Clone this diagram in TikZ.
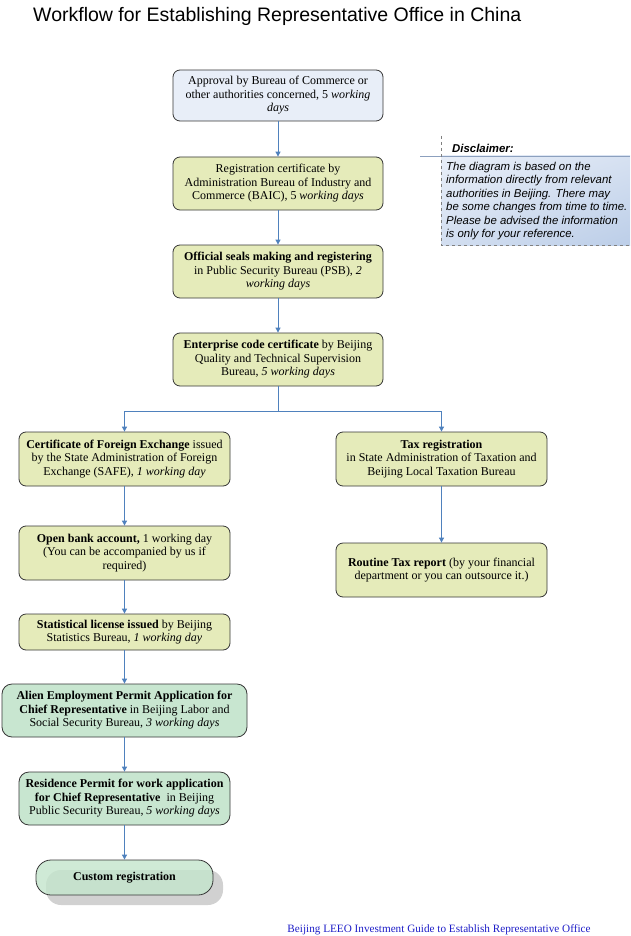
\documentclass[tikz,border=0pt]{standalone}
\usepackage{fontspec}
\setmainfont{Liberation Serif}
\newfontfamily\arialfont{Liberation Sans}
\usetikzlibrary{arrows.meta,shadings}
\definecolor{arrowblue}{RGB}{79,129,189}
\definecolor{boxline}{RGB}{55,55,55}
\definecolor{yfill}{RGB}{229,235,186}
\definecolor{bfill}{RGB}{232,238,248}
\definecolor{gfill}{RGB}{200,230,208}
\definecolor{cfill}{RGB}{196,229,204}
\definecolor{discA}{RGB}{232,238,248}
\definecolor{discB}{RGB}{188,206,232}
\definecolor{discline}{RGB}{140,160,190}
\definecolor{footblue}{RGB}{30,30,200}
\begin{document}
\begin{tikzpicture}[x=1pt,y=-1pt,
  stepbox/.style={draw=boxline, line width=0.8pt, rounded corners=7pt, fill=yfill,
    align=center, inner sep=2pt, minimum width=211pt, minimum height=53pt,
    font=\fontsize{12}{13.5}\selectfont},
  arr/.style={draw=arrowblue, line width=0.9pt, -{Triangle[width=5pt,length=5pt]}},
  ln/.style={draw=arrowblue, line width=0.9pt}]
\useasboundingbox (0,0) rectangle (630,936);
\fill[white] (0,0) rectangle (630,936);

% title
\node[anchor=base west, inner sep=0pt, font=\arialfont\fontsize{19.5}{22}\selectfont] (title) at (33,22)
  {Workflow for Establishing Representative Office in China};

% disclaimer
\shade[upper left=discA, upper right=discA!60!discB, lower left=discA!50!discB, lower right=discB] (441,156) rectangle (630,245);
\draw[discline, line width=0.8pt] (420,156) -- (630,156);
\draw[gray, dashed, line width=0.8pt] (441,136) -- (441,245) -- (630,245);
\node[anchor=base west, inner sep=0pt, font=\arialfont\bfseries\itshape\fontsize{11.4}{13}\selectfont] (disch) at (452,153) {Disclaimer:};
\node[anchor=north west, inner sep=0pt, align=left, font=\arialfont\itshape\fontsize{11.4}{13.4}\selectfont] (disct) at (446,162)
  {The diagram is based on the\\ information directly from relevant\\ authorities in Beijing. There may\\ be some changes from time to time.\\ Please be advised the information\\ is only for your reference.};

% boxes
\node[stepbox, fill=bfill, minimum width=210pt, minimum height=51pt] (b1) at (278,95.5)
  {Approval by Bureau of Commerce or\\ other authorities concerned, 5 \textit{working}\\ \textit{days}};
\node[stepbox, minimum width=210pt] (b2) at (278,183.5)
  {Registration certificate by\\ Administration Bureau of Industry and\\ Commerce (BAIC), 5 \textit{working days}};
\node[stepbox, minimum width=210pt] (b3) at (278,271.5)
  {\textbf{Official seals making and registering}\\ in Public Security Bureau (PSB), \textit{2}\\ \textit{working days}};
\node[stepbox, minimum width=210pt] (b4) at (278,359.5)
  {\textbf{Enterprise code certificate} by Beijing\\ Quality and Technical Supervision\\ Bureau, \textit{5 working days}};
\node[stepbox, minimum height=54pt] (b5) at (124.5,459)
  {\textbf{Certificate of Foreign Exchange} issued\\ by the State Administration of Foreign\\ Exchange (SAFE), \textit{1 working day}};
\node[stepbox, minimum height=54pt] (b6) at (441.5,459)
  {\textbf{Tax registration}\\ in State Administration of Taxation and\\ Beijing Local Taxation Bureau};
\node[stepbox, minimum height=54pt] (b7) at (124.5,553)
  {\textbf{Open bank account,} 1 working day\\ (You can be accompanied by us if\\ required)};
\node[stepbox, minimum height=54pt] (b8) at (441.5,570)
  {\textbf{Routine Tax report} (by your financial\\ department or you can outsource it.)};
\node[stepbox, minimum height=36pt] (b9) at (124.5,632)
  {\textbf{Statistical license issued} by Beijing\\ Statistics Bureau, \textit{1 working day}};
\node[stepbox, fill=gfill, minimum width=245pt, rounded corners=10pt] (b10) at (124.5,710.5)
  {\textbf{Alien Employment Permit Application for}\\ \textbf{Chief Representative} in Beijing Labor and\\ Social Security Bureau, \textit{3 working days}};
\node[stepbox, fill=gfill, rounded corners=10pt] (b11) at (124.5,798.5)
  {\textbf{Residence Permit for work application}\\ \textbf{for Chief Representative}~ in Beijing\\ Public Security Bureau, \textit{5 working days}};
% custom registration with shadow
\fill[black!18, rounded corners=15pt] (46,870) rectangle (223,905);
\node[stepbox, fill=cfill, fill opacity=0.8, text opacity=1, minimum width=177pt, minimum height=35pt, rounded corners=15pt] (b12) at (124.5,877.5)
  {\textbf{Custom registration}};

% connectors
\draw[arr] (b1.south) -- (b2.north);
\draw[arr] (b2.south) -- (b3.north);
\draw[arr] (b3.south) -- (b4.north);
\coordinate (br) at (278,411);
\draw[ln] (b4.south) -- (br);
\draw[arr] (br) -| (b5.north);
\draw[arr] (br) -| (b6.north);
\draw[arr] (b5.south) -- (b7.north);
\draw[arr] (b7.south) -- (b9.north);
\draw[arr] (b9.south) -- (b10.north);
\draw[arr] (b10.south) -- (b11.north);
\draw[arr] (b11.south) -- (b12.north);
\draw[arr] (b6.south) -- (b8.north);

% footer
\node[anchor=base, inner sep=0pt, text=footblue, font=\fontsize{11.2}{13}\selectfont] (foot) at (439,932)
  {Beijing LEEO Investment Guide to Establish Representative Office};
\end{tikzpicture}
\end{document}
